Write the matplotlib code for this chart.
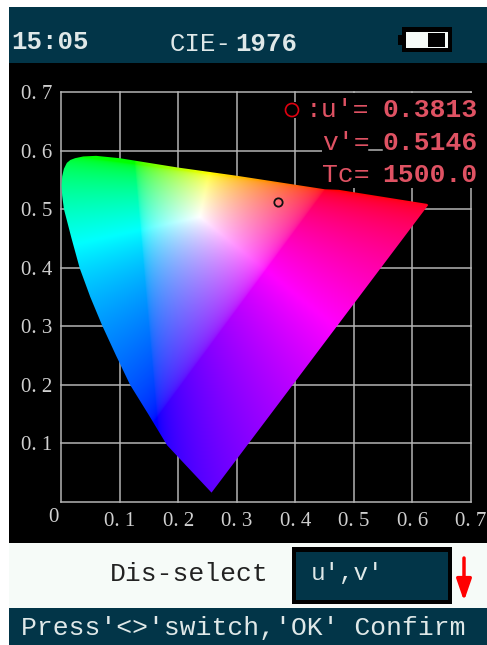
import numpy as np
import matplotlib
matplotlib.use('Agg')
import matplotlib.pyplot as plt
from matplotlib.patches import Rectangle, Polygon, Circle

W, H = 487, 645

ticks = [0.1, 0.2, 0.3, 0.4, 0.5, 0.6, 0.7]
tick_labels = ['0. 1', '0. 2', '0. 3', '0. 4', '0. 5', '0. 6', '0. 7']

# gamut outline (u', v')
locus_u = [0.257, 0.181, 0.149, 0.118, 0.094, 0.070, 0.050, 0.032, 0.018, 0.005, 0.002, 0.001,
           0.002, 0.005, 0.010, 0.016, 0.024, 0.038, 0.060, 0.100, 0.200, 0.300, 0.450, 0.474, 0.625, 0.627]
locus_v = [0.016, 0.097, 0.150, 0.200, 0.250, 0.302, 0.350, 0.399, 0.450, 0.500, 0.523, 0.540,
           0.556, 0.569, 0.579, 0.584, 0.587, 0.590, 0.591, 0.587, 0.571, 0.557, 0.534, 0.533, 0.509, 0.507]

# primaries and white of the colour field
red_uv = (0.451, 0.534)
green_uv = (0.126, 0.577)
blue_uv = (0.164, 0.145)
white_uv = (0.237, 0.487)

point_u, point_v = 0.371, 0.512

readout_labels = [":u'=", "v'=", "Tc="]
readout_values = ['0.3813', '0.5146', '1500.0']

TEAL = '#023548'
RED = '#df5263'
GREY = '#b4b4b4'
LIGHT = '#dfe8e8'
MONO = 'Liberation Mono'


def color_field(uu, vv):
    prim = np.array([[red_uv[0], green_uv[0], blue_uv[0]],
                     [red_uv[1], green_uv[1], blue_uv[1]],
                     [1, 1, 1]])
    inv = np.linalg.inv(prim)
    scale = inv @ np.array([white_uv[0], white_uv[1], 1])
    pts = np.stack([uu.ravel(), vv.ravel(), np.ones(uu.size)])
    rgb = (inv @ pts).T / scale
    rgb = np.clip(rgb, 0, None)
    rgb = rgb / rgb.max(axis=1, keepdims=True)
    return (rgb ** (1 / 2.2)).reshape(uu.shape + (3,))


fig = plt.figure(figsize=(W / 100, H / 100), dpi=100, facecolor='white')

# panels, in pixel coordinates
bg = fig.add_axes([0, 0, 1, 1], zorder=0)
bg.set_xlim(0, W)
bg.set_ylim(H, 0)
bg.axis('off')
bg.add_patch(Rectangle((9, 7), W - 9, 56, color=TEAL, lw=0))
bg.add_patch(Rectangle((9, 63), W - 9, 480, color='black', lw=0))
bg.add_patch(Rectangle((9, 543), W - 9, 65, color='#f6fbf8', lw=0))
bg.add_patch(Rectangle((9, 608), W - 9, 37, color=TEAL, lw=0))

# chart
x0, x1 = 61, 471
y0, y1 = 502, 92
ax = fig.add_axes([x0 / W, 1 - y0 / H, (x1 - x0) / W, (y0 - y1) / H], zorder=1)
ax.set_xlim(0, 0.7)
ax.set_ylim(0, 0.7)
ax.patch.set_alpha(0)
for s in ax.spines.values():
    s.set_visible(False)
ax.set_xticks(ticks)
ax.set_xticklabels(tick_labels, family='Liberation Serif', fontsize=15, color='#d0d0d0')
ax.set_yticks(ticks)
ax.set_yticklabels(tick_labels, family='Liberation Serif', fontsize=15, color='#d0d0d0')
ax.tick_params(length=0, pad=6)
ax.tick_params(axis='x', pad=7)

for t in [0] + ticks:
    ax.plot([t, t], [0, 0.7], color=GREY, lw=1.1, zorder=1, clip_on=False)
    ax.plot([0, 0.7], [t, t], color=GREY, lw=1.1, zorder=1, clip_on=False)

gu, gv = np.meshgrid(np.linspace(0, 0.7, 820), np.linspace(0, 0.7, 820))
im = ax.imshow(color_field(gu, gv), origin='lower', extent=[0, 0.7, 0, 0.7], aspect='auto',
               zorder=2, interpolation='bilinear')
gamut = Polygon(np.column_stack([locus_u, locus_v]), closed=True, transform=ax.transData, fc='none', ec='none')
ax.add_patch(gamut)
im.set_clip_path(gamut)
ax.plot([point_u], [point_v], 'o', ms=6, mfc='none', mec='#111111', mew=1.3, zorder=3)

# overlay: header, readout and bottom panels
top = fig.add_axes([0, 0, 1, 1], zorder=2)
top.set_xlim(0, W)
top.set_ylim(H, 0)
top.axis('off')
top.patch.set_alpha(0)

top.text(53, 517, '0', family='Liberation Serif', fontsize=15, color='#d0d0d0', ha='center', va='center')

# readout sits on black and hides the grid
top.add_patch(Rectangle((322, 93), 165, 95, color='black', lw=0))
top.add_patch(Rectangle((284, 102), 40, 16, color='black', lw=0))
top.plot([369, 382], [150, 150], color=GREY, lw=1.1)
top.add_patch(Circle((292, 110), 6.5, fc='none', ec='#e00010', lw=1.2))
for lab, val, yy, xx in zip(readout_labels, readout_values, [110, 143, 175], [306, 322, 322]):
    top.text(xx, yy, lab, family=MONO, fontsize=19, color=RED, ha='left', va='center')
    top.text(478, yy, val, family=MONO, fontsize=19, fontweight='bold', color=RED, ha='right', va='center')

# header
top.text(11, 42, '15:05', family=MONO, fontsize=18.5, fontweight='bold', color=LIGHT, ha='left', va='center')
top.text(170, 44, 'CIE-', family=MONO, fontsize=18.5, color=LIGHT, ha='left', va='center')
top.text(235, 44, '1976', family=MONO, fontsize=18.5, fontweight='bold', color=LIGHT, ha='left', va='center')

# battery
top.add_patch(Rectangle((402, 27), 50, 25, color='black', lw=0))
top.add_patch(Rectangle((398, 35), 4, 10, color='black', lw=0))
top.add_patch(Rectangle((406, 32), 42, 16, color='#f6fbf8', lw=0))
top.add_patch(Rectangle((428, 33), 17, 14, color='black', lw=0))

# selector
top.text(110, 574, 'Dis-select', family=MONO, fontsize=19, color='#222222', ha='left', va='center')
top.add_patch(Rectangle((292, 547), 160, 57, color='black', lw=0))
top.add_patch(Rectangle((296, 552), 152, 48, color=TEAL, lw=0))
top.text(311, 573, "u',v'", family=MONO, fontsize=17.5, color=LIGHT, ha='left', va='center')
top.annotate('', xy=(464, 601), xytext=(464, 558),
             arrowprops=dict(arrowstyle='-|>,head_width=0.45,head_length=1.3', color='#ff0000', lw=2.5,
                             shrinkA=0, shrinkB=0))

# footer
top.text(21, 628, "Press'<>'switch,'OK' Confirm", family=MONO, fontsize=19, color=LIGHT, ha='left', va='center')

fig.savefig('out.png', dpi=100, facecolor='white')
